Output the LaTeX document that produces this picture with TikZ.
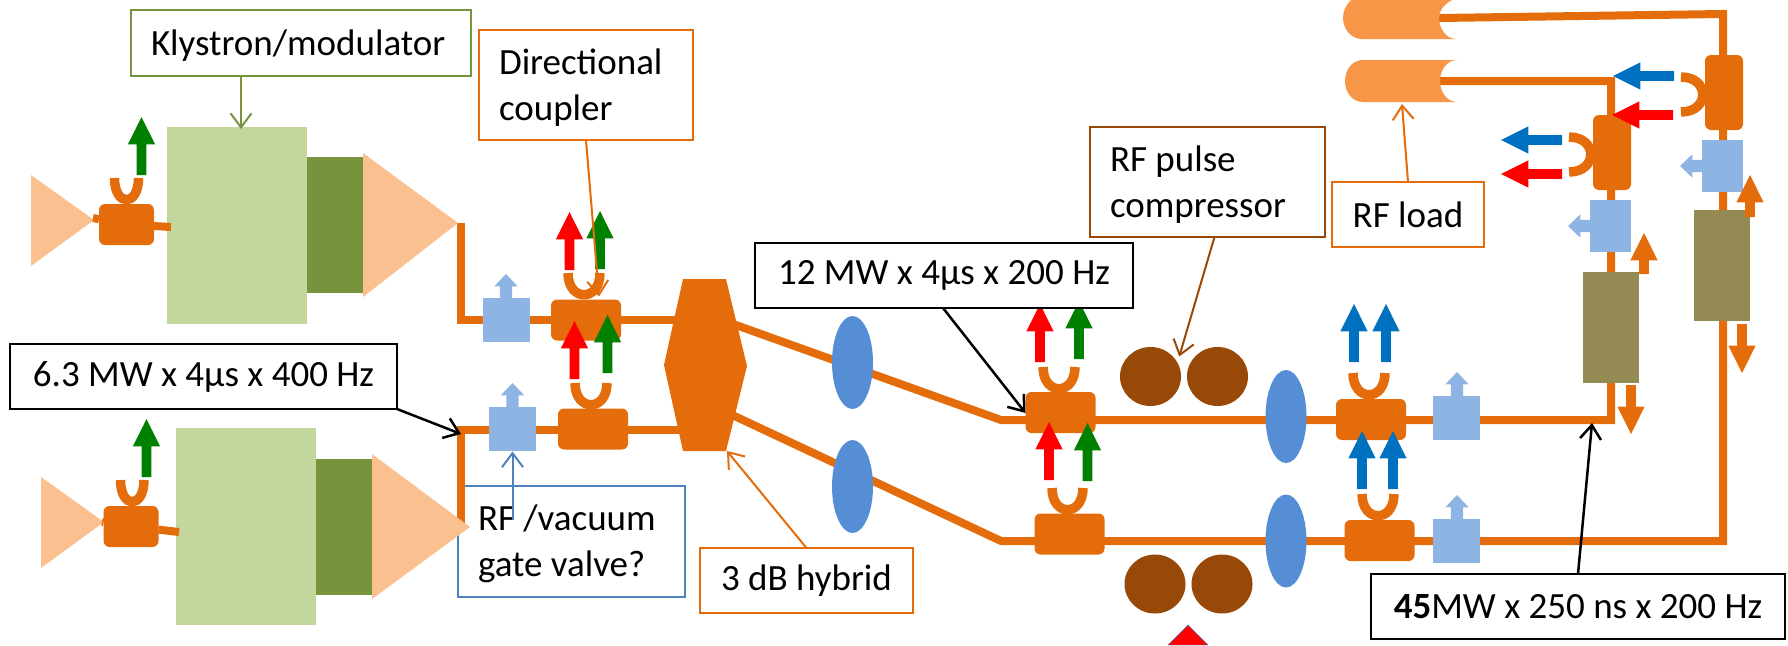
\documentclass[tikz,border=0pt]{standalone}
\usepackage{fontspec}
\setmainfont{Carlito}
\usepackage{tikz}
\usetikzlibrary{arrows.meta,shapes.geometric,shapes.arrows}

\definecolor{guideOrange}{HTML}{E46C0A}
\definecolor{klyLight}{HTML}{C3D69B}
\definecolor{klyDark}{HTML}{77933C}
\definecolor{hornPeach}{HTML}{FAC090}
\definecolor{valveBlue}{HTML}{8EB4E3}
\definecolor{lensBlue}{HTML}{558ED5}
\definecolor{noteBlue}{HTML}{4F81BD}
\definecolor{compBrown}{HTML}{984807}
\definecolor{dumpOlive}{HTML}{948A54}
\definecolor{loadOrange}{HTML}{F79646}
\definecolor{portBlue}{HTML}{0070C0}
\definecolor{portGreen}{HTML}{008000}

\begin{document}
\begin{tikzpicture}[x=1pt,y=-1pt]
  \tikzstyle{block} = [rectangle, draw=none, inner sep=0pt, outer sep=0pt]
  \tikzstyle{klystron} = [block, fill=klyLight, minimum width=140pt, minimum height=197pt]
  \tikzstyle{driver} = [block, fill=klyDark, minimum width=56pt, minimum height=136pt]
  \tikzstyle{coupler} = [block, fill=guideOrange, rounded corners=6pt, minimum width=70pt, minimum height=41pt]
  \tikzstyle{couplerSmall} = [coupler, minimum width=55pt]
  \tikzstyle{couplerTall} = [coupler, minimum width=38pt, minimum height=75pt]
  \tikzstyle{valve} = [block, fill=valveBlue, minimum width=47pt, minimum height=44pt]
  \tikzstyle{valveTall} = [valve, minimum width=41pt, minimum height=52pt]
  \tikzstyle{lens} = [ellipse, fill=lensBlue, inner sep=0pt, minimum width=41pt, minimum height=93pt]
  \tikzstyle{cavity} = [ellipse, fill=compBrown, inner sep=0pt, minimum width=61pt, minimum height=59pt]
  \tikzstyle{dump} = [block, fill=dumpOlive, minimum width=56pt, minimum height=111pt]

  \tikzstyle{port} = [single arrow, draw=none, inner sep=4.7pt, outer sep=0pt, anchor=tip, minimum width=27pt, single arrow head extend=8.8pt, single arrow tip angle=53]
  \tikzstyle{portUp} = [port, shape border rotate=90, minimum height=58pt]
  \tikzstyle{portLeft} = [port, shape border rotate=180, minimum height=61pt]
  \tikzstyle{portDown} = [port, shape border rotate=270, fill=guideOrange, minimum height=49pt]
  \tikzstyle{vent} = [single arrow, draw=none, fill=valveBlue, inner sep=6pt, outer sep=0pt, anchor=tip, minimum width=23pt, single arrow head extend=5.5pt, single arrow tip angle=87, minimum height=26pt]

  \tikzstyle{guide} = [guideOrange, line width=8pt];
  \tikzstyle{loopBend} = [guideOrange, line width=9.5pt];
  \tikzstyle{horn} = [fill=hornPeach];
  \tikzstyle{loadBody} = [fill=loadOrange];
  \tikzstyle{note} = [rectangle, line width=2pt, fill=white, inner sep=0pt, outer sep=0pt, font={\fontsize{37}{46}\selectfont}];
  \tikzstyle{noteWrap} = [note, align=flush left, inner xsep=20pt, execute at begin node={\rule{0pt}{31pt}}];
  \tikzstyle{noteEdge} = [line width=2pt, -{Straight Barb[length=14pt,width=21pt]}];

  % labels that sit behind the rest
  \node[noteWrap, draw=noteBlue, fill=none, text width=187pt, minimum height=111pt] (noteValve) at (571.5,541.5) {RF /vacuum\\gate valve?};

  % waveguides
  \coordinate (jogA) at (461,223);
  \coordinate (jogB) at (461,527);
  \coordinate (hybridInA) at (690,320);
  \coordinate (hybridInB) at (690,430);
  \coordinate (hybridOutA) at (733,324);
  \coordinate (hybridOutB) at (728,413);
  \coordinate (bendA) at (1001,420);
  \coordinate (bendB) at (1001,541);
  \coordinate (cornerA) at (1611,420);
  \coordinate (cornerB) at (1723,541);
  \coordinate (cornerC) at (1611,81);
  \coordinate (cornerD) at (1723,14);
  \coordinate (loadInA) at (1439,18);
  \coordinate (loadInB) at (1440,81);
  \draw[guide] (jogA) |- (hybridInA);
  \draw[guide] (jogB) |- (hybridInB);
  \draw[guide] (hybridOutA) -- (bendA) -- (cornerA) -- (cornerC) -- (loadInB);
  \draw[guide] (hybridOutB) -- (bendB) -- (cornerB) -- (cornerD) -- (loadInA);

  % klystrons
  \node[klystron] (klyA) at (237,225.5) {};
  \node[driver]   (drvA) at (335,225) {};
  \node[klystron] (klyB) at (246,526.5) {};
  \node[driver]   (drvB) at (344,526.5) {};
  \fill[horn] (31,175) -- (94,220) -- (31,266) -- cycle;
  \fill[horn] (363,153) -- (458,223) -- (363,297) -- cycle;
  \fill[horn] (41,477) -- (104,522) -- (41,568) -- cycle;
  \fill[horn] (372,454) -- (470,527) -- (372,599) -- cycle;

  \coordinate (driveA) at (93,218);
  \coordinate (driveB) at (102,522);
  \coordinate (stubA) at (171,227);
  \coordinate (stubB) at (179,532);
  \node[couplerSmall] (cplKlyA) at (126.5,224.5) {};
  \node[couplerSmall] (cplKlyB) at (131,526.5) {};
  \draw[guide] (driveA) -- (cplKlyA);
  \draw[guide] (driveB) -- (cplKlyB);
  \draw[guide] (cplKlyA) -- (stubA);
  \draw[guide] (cplKlyB) -- (stubB);

  % hybrid
  \fill[guideOrange] (683,279) -- (726,279) -- (747,366) -- (726,451) -- (683,451) -- (664,365) -- cycle;

  % lenses, compressors, dumps
  \node[lens] (lensA) at (852.5,362.5) {};
  \node[lens] (lensB) at (852.5,486.5) {};
  \node[lens] (lensC) at (1286,416.5) {};
  \node[lens] (lensD) at (1286,541) {};
  \node[cavity] (cavA) at (1150.5,376.5) {};
  \node[cavity] (cavB) at (1217.5,376.5) {};
  \node[cavity] (cavC) at (1155,584) {};
  \node[cavity] (cavD) at (1222,584) {};
  \node[dump] (dumpA) at (1611,327.5) {};
  \node[dump] (dumpB) at (1722,265) {};

  % couplers and valves
  \node[coupler] (cplA) at (586,320) {};
  \node[coupler] (cplB) at (593,429) {};
  \node[coupler] (cplC) at (1060.5,412.5) {};
  \node[coupler] (cplD) at (1069.5,534) {};
  \node[coupler] (cplE) at (1371,419.5) {};
  \node[coupler] (cplF) at (1379.5,540.5) {};
  \node[couplerTall] (cplG) at (1612,152.5) {};
  \node[couplerTall] (cplH) at (1724,92.5) {};

  \node[vent, shape border rotate=90]  (ventA) at (506,274) {};
  \node[vent, shape border rotate=90]  (ventB) at (512.5,383) {};
  \node[vent, shape border rotate=90]  (ventC) at (1457,372) {};
  \node[vent, shape border rotate=90]  (ventD) at (1457,495) {};
  \node[vent, shape border rotate=180] (ventE) at (1680,166) {};
  \node[vent, shape border rotate=180] (ventF) at (1568,226) {};
  \node[valve] (valveA) at (506,320) {};
  \node[valve] (valveB) at (512.5,428.5) {};
  \node[valve] (valveC) at (1456.5,418) {};
  \node[valve] (valveD) at (1456.5,541) {};
  \node[valveTall] (valveE) at (1610.5,225.5) {};
  \node[valveTall] (valveF) at (1722.5,166) {};

  % coupling loops
  \draw[loopBend] (114.5,178) .. controls (114.5,207) and (138.5,207) .. (138.5,178);
  \draw[loopBend] (120.5,480) .. controls (120.5,509) and (144,509) .. (144,480);
  \draw[loopBend] (568,273) .. controls (568,302) and (600,302) .. (600,273);
  \draw[loopBend] (575,383) .. controls (575,412) and (607,412) .. (607,383);
  \draw[loopBend] (1043,367) .. controls (1043,396) and (1075,396) .. (1075,367);
  \draw[loopBend] (1052,488) .. controls (1052,517) and (1083,517) .. (1083,488);
  \draw[loopBend] (1353,373) .. controls (1353,402) and (1385,402) .. (1385,373);
  \draw[loopBend] (1362,494) .. controls (1362,523) and (1394,523) .. (1394,494);
  \draw[loopBend] (1569,137) .. controls (1598,137) and (1598,172) .. (1569,172);
  \draw[loopBend] (1681,77) .. controls (1710,77) and (1710,112) .. (1681,112);

  % output ports, placed by their tips
  \node[portUp, fill=portGreen] (outKlyA) at (141.5,117) {};
  \node[portUp, fill=portGreen] (outKlyB) at (146.5,419) {};
  \node[portUp, fill=red]       (revA)    at (569.5,212) {};
  \node[portUp, fill=portGreen] (fwdA)    at (600,211) {};
  \node[portUp, fill=red]       (revB)    at (574.5,321) {};
  \node[portUp, fill=portGreen] (fwdB)    at (607.5,315) {};
  \node[portUp, fill=red]       (revC)    at (1040,304) {};
  \node[portUp, fill=portGreen] (fwdC)    at (1079,301) {};
  \node[portUp, fill=red]       (revD)    at (1049,422) {};
  \node[portUp, fill=portGreen] (fwdD)    at (1087.5,423) {};
  \node[portUp, fill=portBlue]  (fwdE)    at (1354,304) {};
  \node[portUp, fill=portBlue]  (revE)    at (1386,304) {};
  \node[portUp, fill=portBlue]  (fwdF)    at (1362,431) {};
  \node[portUp, fill=portBlue]  (revF)    at (1393,431) {};
  \node[portLeft, fill=portBlue] (fwdG)   at (1501,140) {};
  \node[portLeft, fill=red]      (revG)   at (1501,174) {};
  \node[portLeft, fill=portBlue] (fwdH)   at (1613,76) {};
  \node[portLeft, fill=red]      (revH)   at (1612,115) {};
  \node[portUp, fill=guideOrange, minimum height=41pt] (dumpUpA) at (1644,233) {};
  \node[portUp, fill=guideOrange, minimum height=42pt] (dumpUpB) at (1750,175) {};
  \node[portDown] (dumpOutA) at (1631,434) {};
  \node[portDown] (dumpOutB) at (1742,373) {};

  % RF loads
  \fill[loadBody] (1362,0) -- (1452,0) .. controls (1443,5) and (1439,11) .. (1439,18) .. controls (1439,28) and (1446,39) .. (1456,39) -- (1362,39) .. controls (1351,39) and (1343,29) .. (1343,18) .. controls (1343,11) and (1346,5) .. (1351,0) -- cycle;
  \fill[loadBody] (1363,60) -- (1457,60) .. controls (1447,60) and (1440,70) .. (1440,81) .. controls (1440,92) and (1447,102) .. (1457,102) -- (1363,102) .. controls (1352,102) and (1345,92) .. (1345,81) .. controls (1345,70) and (1352,60) .. (1363,60) -- cycle;
  \coordinate (loadB) at (1402,104);

  \fill[red, draw=noteBlue, thin] (1188,625) -- (1208,645) -- (1168,645) -- cycle;

  % labels
  \node[noteWrap, draw=klyDark, text width=300pt, minimum height=66pt] (noteKly) at (301,43) {Klystron/modulator};
  \node[noteWrap, draw=guideOrange, text width=174pt, minimum height=110pt] (noteCoupler) at (586,85) {Directional\\coupler};
  \node[note, draw=black, minimum width=387pt, minimum height=65pt] (noteIn) at (203.5,376.5) {6.3 MW x 4µs x 400 Hz};
  \node[note, draw=black, minimum width=378pt, minimum height=65pt] (noteMid) at (944,275.5) {12 MW x 4µs x 200 Hz};
  \node[note, draw=guideOrange, minimum width=213pt, minimum height=65pt] (noteHybrid) at (806.5,580.5) {3 dB hybrid};
  \node[noteWrap, draw=compBrown, text width=195pt, minimum height=110pt] (noteComp) at (1207.5,182) {RF pulse\\compressor};
  \node[note, draw=guideOrange, minimum width=152pt, minimum height=65pt] (noteLoad) at (1408,214.5) {RF load};
  \node[note, draw=black, minimum width=414pt, minimum height=65pt] (noteOut) at (1578,606.5) {{\bfseries 45}MW x 250 ns x 200 Hz};

  \path ([xshift=-60pt]noteKly.south) edge[noteEdge, draw=klyDark] ([xshift=4pt,yshift=-2pt]klyA.north)
        (noteCoupler.south) edge[noteEdge, draw=guideOrange] ([xshift=13pt,yshift=3pt]cplA.north)
        (noteIn.south east) edge[noteEdge, draw=black, line width=2.5pt] ([yshift=-4pt]jogB |- hybridInB)
        ([xshift=-1pt]noteMid.south) edge[noteEdge, draw=black, line width=2.5pt] ([yshift=-0.5pt]cplC.west)
        (noteHybrid.north) edge[noteEdge, draw=guideOrange] (727,451)
        ([xshift=7pt]noteComp.south) edge[noteEdge, draw=compBrown] ([xshift=7pt,yshift=-1pt]cavA.north east)
        (noteLoad.north) edge[noteEdge, draw=guideOrange] (loadB)
        (noteOut.north) edge[noteEdge, draw=black, line width=2.5pt] ([xshift=-19pt,yshift=-3pt]cornerA)
        ([xshift=-59pt]noteValve.north) ++(0,-34pt) edge[noteEdge, draw=noteBlue] ([yshift=-1pt]valveB.south);

  \useasboundingbox (0,0) rectangle (1788,645);
\end{tikzpicture}
\end{document}
